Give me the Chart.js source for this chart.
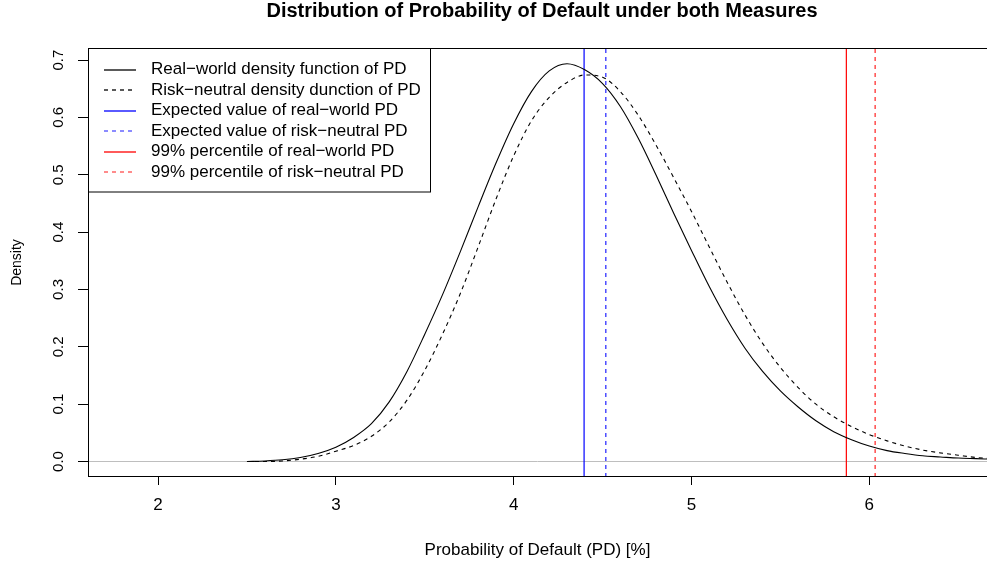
<!DOCTYPE html>
<html>
<head>
<meta charset="utf-8">
<title>Distribution of Probability of Default under both Measures</title>
<script src="https://cdn.jsdelivr.net/npm/chart.js@4.4.1/dist/chart.umd.min.js"></script>
<style>
  html, body { margin: 0; padding: 0; background: #fff; }
  #wrap { width: 987px; height: 567px; }
</style>
</head>
<body>
<div id="wrap"><canvas id="pdChart" width="987" height="567"></canvas></div>
<script>
// PD grid in %, and both density curves read along it
var pdGrid = [2.5, 2.6, 2.7, 2.8, 2.9, 3.0, 3.1, 3.2, 3.3, 3.4, 3.5, 3.6, 3.7, 3.8, 3.9,
              4.0, 4.1, 4.2, 4.3, 4.4, 4.5, 4.6, 4.7, 4.8, 4.9, 5.0, 5.1, 5.2, 5.3, 5.4,
              5.5, 5.6, 5.7, 5.8, 5.9, 6.0, 6.1, 6.2, 6.3, 6.4, 6.5, 6.6, 6.7];
var realWorldDensity = [0.000, 0.001, 0.003, 0.007, 0.014, 0.025, 0.042, 0.066, 0.104, 0.157, 0.222,
                        0.291, 0.366, 0.444, 0.520, 0.589, 0.645, 0.681, 0.6935, 0.683, 0.659, 0.619,
                        0.564, 0.500, 0.433, 0.368, 0.305, 0.248, 0.198, 0.157, 0.123, 0.095, 0.071,
                        0.052, 0.038, 0.027, 0.019, 0.014, 0.010, 0.008, 0.006, 0.005, 0.004];
var riskNeutralDensity = [0.000, 0.000, 0.001, 0.004, 0.009, 0.018, 0.028, 0.044, 0.069, 0.107, 0.159,
                          0.222, 0.293, 0.374, 0.457, 0.533, 0.594, 0.635, 0.661, 0.674, 0.670, 0.645,
                          0.604, 0.552, 0.495, 0.436, 0.374, 0.313, 0.256, 0.206, 0.164, 0.129, 0.100,
                          0.078, 0.061, 0.047, 0.036, 0.027, 0.020, 0.015, 0.011, 0.007, 0.005];

// expected values and 99% percentiles of PD
var meanRealWorld = 4.396;
var meanRiskNeutral = 4.518;
var q99RealWorld = 5.871;
var q99RiskNeutral = 6.033;

var xTicks = [2, 3, 4, 5, 6];
var yTicks = [0, 0.1, 0.2, 0.3, 0.4, 0.5, 0.6, 0.7];

var legendLabels = [
    'Real\u2212world density function of PD',
    'Risk\u2212neutral density dunction of PD',
    'Expected value of real\u2212world PD',
    'Expected value of risk\u2212neutral PD',
    '99% percentile of real\u2212world PD',
    '99% percentile of risk\u2212neutral PD'
];

var xMin = 1.606, xMax = 6.662;
var yMin = -0.027, yMax = 0.721;
var FONT = '"Liberation Sans", Arial, Helvetica, sans-serif';

function toPoints(xs, ys) {
    return xs.map(function(x, i) { return {x: x, y: ys[i]}; });
}

function vline(v) {
    return [{x: v, y: yMin}, {x: v, y: yMax}];
}

// legend entries: colour and dash of the sample line
var legendStyles = [
    {color: '#000000', dash: []},
    {color: '#000000', dash: [4, 4]},
    {color: '#0000ff', dash: []},
    {color: '#4d4dff', dash: [4, 4]},
    {color: '#ff0000', dash: []},
    {color: '#ff4d4d', dash: [4, 4]}
];

// box around the plot, legend and main title
var framePlugin = {
    id: 'frame',
    afterDraw: function(chart) {
        var ctx = chart.ctx;
        var a = chart.chartArea;
        ctx.save();
        ctx.strokeStyle = '#000';
        ctx.lineWidth = 1;
        ctx.setLineDash([]);
        ctx.strokeRect(a.left + 0.5, a.top + 0.5, a.right - a.left + 5, a.bottom - a.top - 1);

        // legend box
        ctx.fillStyle = '#fff';
        ctx.fillRect(a.left + 0.5, a.top + 0.5, 342, 143.5);
        ctx.strokeRect(a.left + 0.5, a.top + 0.5, 342, 143.5);
        ctx.font = '17px ' + FONT;
        ctx.textBaseline = 'middle';
        ctx.textAlign = 'left';
        legendLabels.forEach(function(label, i) {
            var y = 69.5 + i * 20.5;
            var st = legendStyles[i];
            ctx.beginPath();
            ctx.strokeStyle = st.color;
            ctx.lineWidth = 1.3;
            ctx.setLineDash(st.dash);
            ctx.moveTo(104, Math.round(y));
            ctx.lineTo(136, Math.round(y));
            ctx.stroke();
            ctx.fillStyle = '#000';
            ctx.fillText(label, 151, y);
        });

        // main title
        ctx.font = 'bold 20px ' + FONT;
        ctx.textAlign = 'center';
        ctx.fillStyle = '#000';
        ctx.fillText('Distribution of Probability of Default under both Measures', 542, 11);
        ctx.restore();
    }
};

var ctx = document.getElementById('pdChart').getContext('2d');
var pdChart = new Chart(ctx, {
    type: 'line',
    data: {
        datasets: [
            {data: toPoints(pdGrid, realWorldDensity), borderColor: '#000', borderWidth: 1.1, cubicInterpolationMode: 'monotone'},
            {data: toPoints(pdGrid, riskNeutralDensity), borderColor: '#000', borderWidth: 1.1, borderDash: [4, 4], cubicInterpolationMode: 'monotone'},
            {data: vline(meanRealWorld), borderColor: '#0000ff', borderWidth: 1.2},
            {data: vline(meanRiskNeutral), borderColor: '#4d4dff', borderWidth: 1.5, borderDash: [4, 4]},
            {data: vline(q99RealWorld), borderColor: '#ff0000', borderWidth: 1.2},
            {data: vline(q99RiskNeutral), borderColor: '#ff4d4d', borderWidth: 1.5, borderDash: [4, 4]},
            {data: [{x: xMin, y: 0}, {x: xMax, y: 0}], borderColor: '#bebebe', borderWidth: 1}
        ]
    },
    options: {
        responsive: false,
        animation: false,
        devicePixelRatio: 1,
        layout: {padding: {top: 48, left: 0, right: 0, bottom: 0}},
        elements: {point: {radius: 0}},
        plugins: {legend: {display: false}, tooltip: {enabled: false}},
        scales: {
            x: {
                type: 'linear',
                min: xMin,
                max: xMax,
                afterBuildTicks: function(scale) {
                    scale.ticks = xTicks.map(function(v) { return {value: v}; });
                },
                afterFit: function(scale) { scale.height = 90; },
                grid: {drawOnChartArea: false, drawTicks: true, tickLength: 8, color: '#000'},
                border: {display: false},
                ticks: {
                    color: '#000',
                    font: {family: FONT, size: 17},
                    padding: 10,
                    maxRotation: 0,
                    callback: function(v) { return String(v); }
                },
                title: {
                    display: true,
                    text: 'Probability of Default (PD) [%]',
                    color: '#000',
                    font: {family: FONT, size: 17},
                    padding: {top: 0, bottom: 6}
                }
            },
            y: {
                type: 'linear',
                min: yMin,
                max: yMax,
                afterBuildTicks: function(scale) {
                    scale.ticks = yTicks.map(function(v) { return {value: v}; });
                },
                afterFit: function(scale) { scale.width = 88; },
                grid: {drawOnChartArea: false, drawTicks: true, tickLength: 10, color: '#000'},
                border: {display: false},
                ticks: {
                    color: '#000',
                    font: {family: FONT, size: 15},
                    padding: 9,
                    minRotation: 90,
                    maxRotation: 90,
                    crossAlign: 'center',
                    callback: function(v) { return v.toFixed(1); }
                },
                title: {
                    display: true,
                    text: 'Density',
                    color: '#000',
                    font: {family: FONT, size: 14},
                    padding: {top: 9, bottom: 0}
                }
            }
        }
    },
    plugins: [framePlugin]
});
</script>
</body>
</html>
